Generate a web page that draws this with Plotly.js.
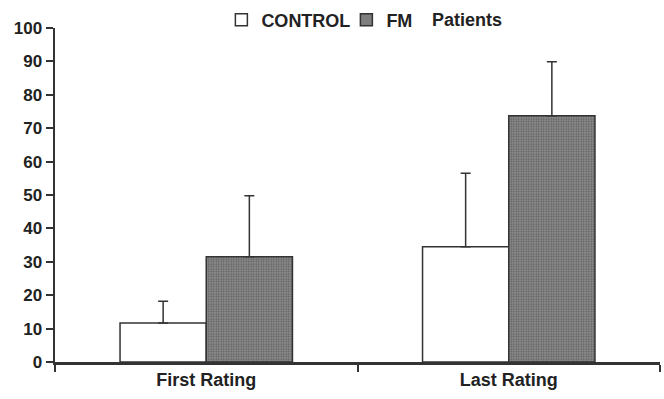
<!DOCTYPE html>
<html>
<head>
<meta charset="utf-8">
<script src="https://cdn.plot.ly/plotly-3.0.1.min.js"></script>
<style>html,body{margin:0;padding:0;background:#fff;}#chart{width:664px;height:399px;}</style>
</head>
<body>
<div id="chart"></div>
<script>
const categories = ["First Rating", "Last Rating"];
const controlMean = [11.7, 34.5];
const controlErr = [6.5, 22.0];
const fmMean = [31.5, 73.7];
const fmErr = [18.3, 16.2];
const yTicks = [0, 10, 20, 30, 40, 50, 60, 70, 80, 90, 100];

const lineCol = "#333333";
const font = {family: "Liberation Sans, Arial, sans-serif", color: "#222222"};

const traces = [
  {
    type: "bar", name: "<b>CONTROL</b>", x: categories, y: controlMean,
    marker: {color: "#ffffff", line: {color: lineCol, width: 1.5}},
    error_y: {type: "data", array: controlErr, symmetric: false, arrayminus: [0, 0],
              color: lineCol, thickness: 1.5, width: 5}
  },
  {
    type: "bar", name: "<b>FM</b>", x: categories, y: fmMean,
    marker: {color: "#868686", line: {color: lineCol, width: 1.5},
             pattern: {shape: ".", fgcolor: "#5e5e5e", bgcolor: "#939393", size: 2.5, solidity: 0.45}},
    error_y: {type: "data", array: fmErr, symmetric: false, arrayminus: [0, 0],
              color: lineCol, thickness: 1.5, width: 5}
  }
];

const layout = {
  width: 664, height: 399,
  margin: {l: 55, r: 4, t: 28, b: 37, autoexpand: false},
  paper_bgcolor: "#ffffff", plot_bgcolor: "#ffffff",
  font: font,
  barmode: "group", bargap: 0.43, bargroupgap: 0,
  showlegend: true,
  legend: {orientation: "h", x: 0.275, y: 1.024, xanchor: "left", yanchor: "middle",
           font: {size: 18, family: font.family, color: "#222"}, itemwidth: 30,
           entrywidth: 80, tracegroupgap: 0, bgcolor: "rgba(0,0,0,0)"},
  xaxis: {
    type: "category", range: [-0.5, 1.5], showline: true, linecolor: lineCol, linewidth: 2.5,
    ticks: "outside", tickson: "boundaries", ticklen: 7, tickwidth: 2, tickcolor: lineCol,
    tickfont: {size: 18, family: font.family, color: "#222", weight: "bold"},
    showgrid: false, zeroline: false, fixedrange: true
  },
  yaxis: {
    range: [0, 100], tickvals: yTicks, ticktext: yTicks.map(String),
    showline: true, linecolor: lineCol, linewidth: 2.5,
    ticks: "outside", ticklen: 7, tickwidth: 2, tickcolor: lineCol,
    tickfont: {size: 17, family: font.family, color: "#222", weight: "bold"},
    showgrid: false, zeroline: false, fixedrange: true
  },
  annotations: [
    {text: "<b>Patients</b>", xref: "paper", yref: "paper", x: 0.62, y: 1.024,
     xanchor: "left", yanchor: "middle", showarrow: false,
     font: {size: 18, family: font.family, color: "#222"}}
  ]
};

Plotly.newPlot("chart", traces, layout, {displayModeBar: false, staticPlot: true});
</script>
</body>
</html>
